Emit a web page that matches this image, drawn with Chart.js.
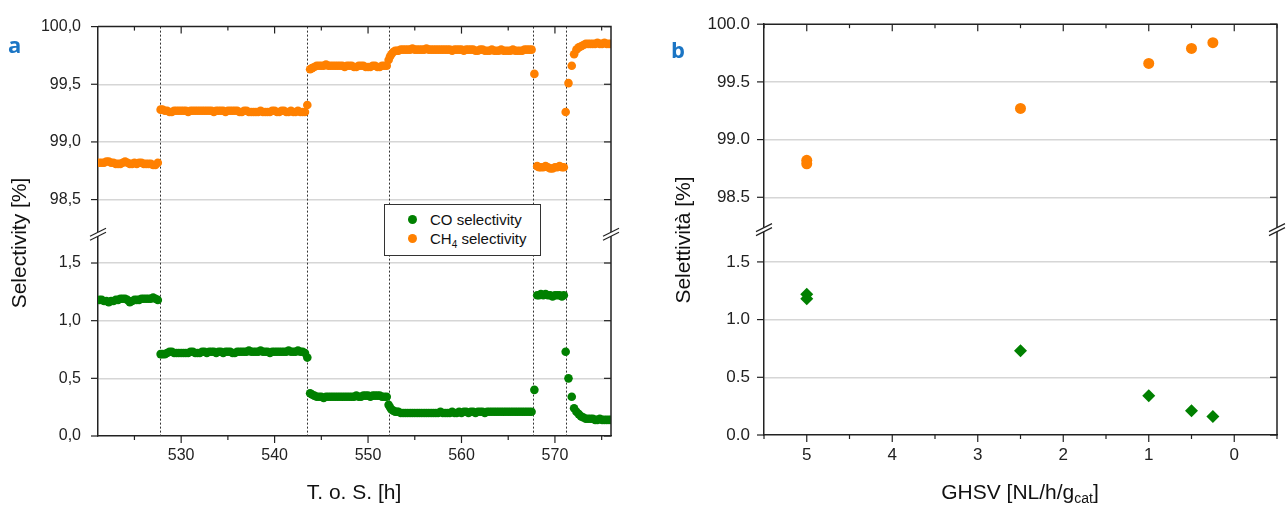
<!DOCTYPE html>
<html>
<head>
<meta charset="utf-8">
<script src="https://cdn.jsdelivr.net/npm/chart.js@4.4.0/dist/chart.umd.min.js"></script>
<style>
  body { margin: 0; width: 1288px; height: 505px; background: #fff; position: relative; overflow: hidden;
         font-family: "Liberation Sans", Arial, sans-serif; color: #111; }
  .pane { position: absolute; top: 0; height: 505px; }
  #paneA { left: 0; width: 640px; }
  #paneB { left: 645px; width: 643px; }
  .tag { position: absolute; font-family: "Open Sans", sans-serif; font-weight: bold; color: #1b75c4; font-size: 22px; line-height: 22px; }
  .ytitle { position: absolute; font-size: 21px; transform: translate(-50%, -50%) rotate(-90deg); white-space: nowrap; }
  .xtitle { position: absolute; font-size: 21px; transform: translate(-50%, -50%); white-space: nowrap; }
  .xtitle sub { font-size: 14px; vertical-align: -4px; line-height: 0; }
  #legend { position: absolute; left: 384px; top: 204px; width: 155px; height: 50px; border: 1px solid #333; background: #fff; z-index: 5; }
  #legend .dot { position: absolute; width: 9px; height: 9px; border-radius: 50%; left: 23px; }
  #legend .item { position: absolute; left: 45px; font-size: 15px; line-height: 20px; white-space: nowrap; }
  #legend sub { font-size: 10px; vertical-align: -4px; line-height: 0; }
</style>
</head>
<body>
<div class="pane" id="paneA"><canvas id="chartA"></canvas></div>
<div class="pane" id="paneB"><canvas id="chartB"></canvas></div>

<div class="tag" style="left:8px; top:33px;">a</div>
<div class="tag" style="left:671px; top:38px;">b</div>
<div class="ytitle" style="left:19px; top:243px;">Selectivity [%]</div>
<div class="ytitle" style="left:683px; top:240px;">Selettività [%]</div>
<div class="xtitle" style="left:354px; top:492px;">T. o. S. [h]</div>
<div class="xtitle" style="left:1020px; top:492px;">GHSV [NL/h/g<sub>cat</sub>]</div>

<div id="legend">
  <span class="dot" style="top:10px; background:#008000;"></span>
  <div class="item" style="top:5px;">CO selectivity</div>
  <span class="dot" style="top:29px; background:#ff8000;"></span>
  <div class="item" style="top:24px;">CH<sub>4</sub> selectivity</div>
</div>

<script>
// ---- panel a: selectivity vs time on stream ----
const tos = [
  521.25, 521.5, 521.75, 522.0, 522.25, 522.5, 522.75, 523.0, 523.25, 523.5, 523.75, 524.0, 524.25,
  524.5, 524.75, 525.0, 525.25, 525.5, 525.75, 526.0, 526.25, 526.5, 526.75, 527.0, 527.25, 527.5,
  527.8,
  528.0, 528.25, 528.5, 528.75, 529.0, 529.25, 529.5, 529.75,
  530.0, 530.25, 530.5, 530.75, 531.0, 531.25, 531.5, 531.75,
  532.0, 532.25, 532.5, 532.75, 533.0, 533.25, 533.5, 533.75,
  534.0, 534.25, 534.5, 534.75, 535.0, 535.25, 535.5, 535.75,
  536.0, 536.25, 536.5, 536.75, 537.0, 537.25, 537.5, 537.75,
  538.0, 538.25, 538.5, 538.75, 539.0, 539.25, 539.5, 539.75,
  540.0, 540.25, 540.5, 540.75, 541.0, 541.25, 541.5, 541.75,
  542.0, 542.25, 542.5, 542.75, 543.0, 543.25,
  543.5,
  543.8,
  544.0, 544.25, 544.5, 544.75, 545.0, 545.25, 545.5, 545.75,
  546.0, 546.25, 546.5, 546.75, 547.0, 547.25, 547.5, 547.75,
  548.0, 548.25, 548.5, 548.75, 549.0, 549.25, 549.5, 549.75,
  550.0, 550.25, 550.5, 550.75, 551.0, 551.25, 551.5, 551.75,
  552.0,
  552.2, 552.35, 552.5, 552.7, 552.9, 553.1,
  553.25, 553.5, 553.75,
  554.0, 554.25, 554.5, 554.75, 555.0, 555.25, 555.5, 555.75,
  556.0, 556.25, 556.5, 556.75, 557.0, 557.25, 557.5, 557.75,
  558.0, 558.25, 558.5, 558.75, 559.0, 559.25, 559.5, 559.75,
  560.0, 560.25, 560.5, 560.75, 561.0, 561.25, 561.5, 561.75,
  562.0, 562.25, 562.5, 562.75, 563.0, 563.25, 563.5, 563.75,
  564.0, 564.25, 564.5, 564.75, 565.0, 565.25, 565.5, 565.75,
  566.0, 566.25, 566.5, 566.75, 567.0, 567.25, 567.5,
  567.8,
  568.1, 568.3, 568.5, 568.75, 569.0, 569.25, 569.5, 569.75, 570.0, 570.25, 570.5, 570.75, 570.95,
  571.15, 571.45, 571.8, 572.05, 572.3, 572.55, 572.8, 573.05, 573.3,
  573.55, 573.8, 574.05, 574.3, 574.55, 574.8, 575.05, 575.3, 575.55, 575.8, 576.0
];
const ch4Sel = [
  98.82, 98.82, 98.82, 98.83, 98.83, 98.82, 98.82, 98.81, 98.81, 98.81, 98.82, 98.83, 98.82,
  98.81, 98.81, 98.82, 98.81, 98.82, 98.82, 98.81, 98.81, 98.81, 98.81, 98.80, 98.80, 98.82,
  99.28,
  99.28, 99.27, 99.27, 99.26, 99.26, 99.27, 99.27, 99.27,
  99.27, 99.27, 99.27, 99.26, 99.27, 99.27, 99.27, 99.27,
  99.27, 99.27, 99.27, 99.27, 99.27, 99.27, 99.26, 99.27,
  99.27, 99.27, 99.27, 99.26, 99.27, 99.27, 99.27, 99.27,
  99.27, 99.26, 99.26, 99.27, 99.27, 99.26, 99.26, 99.26,
  99.26, 99.26, 99.27, 99.26, 99.26, 99.26, 99.26, 99.27,
  99.27, 99.26, 99.26, 99.27, 99.27, 99.26, 99.26, 99.27,
  99.26, 99.26, 99.27, 99.26, 99.26, 99.26,
  99.32,
  99.63,
  99.64, 99.65, 99.66, 99.66, 99.66, 99.66, 99.67, 99.66,
  99.66, 99.66, 99.66, 99.66, 99.66, 99.66, 99.65, 99.66,
  99.66, 99.66, 99.65, 99.65, 99.66, 99.66, 99.66, 99.65,
  99.65, 99.65, 99.66, 99.66, 99.65, 99.65, 99.66, 99.66,
  99.66,
  99.71, 99.74, 99.76, 99.78, 99.79, 99.79,
  99.79, 99.80, 99.80,
  99.80, 99.80, 99.80, 99.81, 99.80, 99.80, 99.80, 99.80,
  99.80, 99.81, 99.80, 99.80, 99.80, 99.80, 99.80, 99.80,
  99.80, 99.80, 99.80, 99.80, 99.79, 99.80, 99.80, 99.80,
  99.80, 99.79, 99.80, 99.80, 99.80, 99.80, 99.79, 99.79,
  99.80, 99.80, 99.79, 99.79, 99.79, 99.80, 99.79, 99.79,
  99.79, 99.80, 99.79, 99.79, 99.79, 99.79, 99.80, 99.79,
  99.79, 99.79, 99.79, 99.80, 99.80, 99.80, 99.80,
  99.59,
  98.79, 98.78, 98.78, 98.78, 98.79, 98.78, 98.77, 98.77, 98.78, 98.78, 98.79, 98.78, 98.78,
  99.26, 99.51, 99.66, 99.76, 99.80, 99.82, 99.83, 99.84, 99.85,
  99.85, 99.85, 99.85, 99.85, 99.86, 99.85, 99.85, 99.86, 99.85, 99.85, 99.85
];
const coSel = [
  1.18, 1.18, 1.17, 1.17, 1.16, 1.17, 1.17, 1.18, 1.18, 1.19, 1.19, 1.19, 1.18,
  1.16, 1.17, 1.18, 1.18, 1.18, 1.19, 1.19, 1.19, 1.19, 1.19, 1.20, 1.19, 1.18,
  0.71,
  0.71, 0.71, 0.72, 0.73, 0.73, 0.72, 0.72, 0.72,
  0.72, 0.72, 0.72, 0.72, 0.73, 0.73, 0.72, 0.72,
  0.72, 0.73, 0.73, 0.72, 0.73, 0.73, 0.73, 0.72,
  0.73, 0.73, 0.72, 0.73, 0.73, 0.73, 0.72, 0.72,
  0.73, 0.73, 0.73, 0.73, 0.73, 0.74, 0.73, 0.73,
  0.73, 0.73, 0.74, 0.73, 0.73, 0.73, 0.72, 0.73,
  0.73, 0.73, 0.73, 0.73, 0.73, 0.73, 0.74, 0.73,
  0.73, 0.73, 0.74, 0.73, 0.73, 0.72,
  0.68,
  0.37,
  0.36, 0.35, 0.34, 0.34, 0.34, 0.33, 0.34, 0.34,
  0.34, 0.34, 0.34, 0.34, 0.34, 0.34, 0.34, 0.34,
  0.34, 0.34, 0.34, 0.35, 0.34, 0.34, 0.35, 0.35,
  0.35, 0.34, 0.35, 0.35, 0.35, 0.35, 0.34, 0.34,
  0.34,
  0.27, 0.25, 0.23, 0.22, 0.21, 0.21,
  0.21, 0.20, 0.20,
  0.20, 0.20, 0.20, 0.20, 0.20, 0.20, 0.20, 0.20,
  0.20, 0.20, 0.20, 0.20, 0.20, 0.20, 0.20, 0.21,
  0.20, 0.20, 0.20, 0.20, 0.21, 0.20, 0.20, 0.21,
  0.20, 0.21, 0.21, 0.20, 0.21, 0.21, 0.20, 0.21,
  0.21, 0.21, 0.20, 0.21, 0.21, 0.21, 0.21, 0.21,
  0.21, 0.21, 0.21, 0.21, 0.21, 0.21, 0.21, 0.21,
  0.21, 0.21, 0.21, 0.21, 0.21, 0.21, 0.21,
  0.40,
  1.22, 1.22, 1.23, 1.22, 1.23, 1.22, 1.22, 1.21, 1.22, 1.22, 1.22, 1.21, 1.22,
  0.73, 0.50, 0.34, 0.24, 0.21, 0.19, 0.17, 0.16, 0.15,
  0.15, 0.15, 0.15, 0.14, 0.14, 0.15, 0.14, 0.14, 0.14, 0.14, 0.14
];
// times where the space velocity was changed (dotted lines)
const switchTimes = [527.7, 543.45, 552.2, 567.7, 571.2];

// ---- panel b: selectivity vs GHSV ----
const ghsv = [5, 5, 2.5, 1, 0.5, 0.25];
const ch4Ghsv = [98.82, 98.79, 99.27, 99.66, 99.79, 99.84];
const coGhsv = [1.22, 1.18, 0.73, 0.34, 0.21, 0.16];

const GREEN = '#008000', ORANGE = '#ff8000', INK = '#222', GRID = '#d6d6d6';
Chart.defaults.font.family = "'Liberation Sans', Arial, sans-serif";
Chart.defaults.color = INK;

const onHalf = v => Math.abs(v * 2 - Math.round(v * 2)) < 1e-6;
const commaFmt = v => onHalf(v) ? v.toFixed(1).replace('.', ',') : '';
const dotFmt = v => onHalf(v) ? v.toFixed(1) : '';

function yScale(min, max, keepMin, keepMax, weight, fmt, width, pad, size) {
  return {
    type: 'linear', position: 'left', stack: 'sel', stackWeight: weight, min: min, max: max,
    afterFit: s => { s.width = width; },
    afterBuildTicks: s => { s.ticks = s.ticks.filter(t => t.value >= keepMin - 1e-9 && t.value <= keepMax + 1e-9); },
    ticks: { stepSize: 0.25, includeBounds: false, padding: pad, font: { size: size }, callback: fmt },
    grid: { color: c => (c.tick && (c.tick.value === 0 || c.tick.value === 100)) ? 'rgba(0,0,0,0)' : GRID,
            lineWidth: 1.5, drawTicks: false },
    border: { color: INK, width: 1.5 }
  };
}

function xScale(min, max, step, major, reverse, height, size) {
  return {
    type: 'linear', position: 'bottom', min: min, max: max, reverse: reverse,
    afterFit: s => { s.height = height; },
    ticks: { stepSize: step, includeBounds: false, autoSkip: false, maxRotation: 0, padding: 10, font: { size: size },
             callback: v => (Math.abs(v / major - Math.round(v / major)) < 1e-6) ? String(Math.round(v)) : '' },
    grid: { drawOnChartArea: false, drawTicks: false },
    border: { color: INK, width: 1.5 }
  };
}

// frame, mirrored ticks, tick marks, dotted lines and axis breaks
const decor = {
  id: 'decor',
  beforeDatasetsDraw(chart, args, opts) {
    const { ctx, chartArea: a, scales } = chart;
    if (!opts.lines) return;
    ctx.save();
    ctx.strokeStyle = '#333';
    ctx.lineWidth = 1;
    ctx.setLineDash([2, 2]);
    opts.lines.forEach(t => {
      const px = Math.round(scales.x.getPixelForValue(t)) + 0.5;
      ctx.beginPath(); ctx.moveTo(px, a.top); ctx.lineTo(px, a.bottom); ctx.stroke();
    });
    ctx.restore();
  },
  afterDraw(chart) {
    const { ctx, chartArea: a, scales } = chart;
    const seg = (x1, y1, x2, y2) => { ctx.beginPath(); ctx.moveTo(x1, y1); ctx.lineTo(x2, y2); ctx.stroke(); };
    ctx.save();
    ctx.strokeStyle = INK;
    ctx.lineWidth = 1.5;
    ctx.beginPath(); ctx.moveTo(a.left, a.top); ctx.lineTo(a.right, a.top); ctx.lineTo(a.right, a.bottom); ctx.stroke();
    ctx.lineWidth = 1.2;
    scales.x.ticks.forEach(t => {
      const px = scales.x.getPixelForValue(t.value);
      const L = t.label ? 7 : 4;
      seg(px, a.bottom, px, a.bottom + L);
      seg(px, a.top, px, a.top + L);
    });
    [scales.ylo, scales.yhi].forEach(s => s.ticks.forEach(t => {
      const py = s.getPixelForValue(t.value);
      const L = t.label ? 7 : 4;
      seg(a.left - L, py, a.left, py);
      seg(a.right - L, py, a.right, py);
    }));
    const yb = scales.yhi.bottom;
    [a.left, a.right].forEach(x0 => {
      ctx.fillStyle = '#fff';
      ctx.beginPath();
      ctx.moveTo(x0 - 8, yb + 6); ctx.lineTo(x0 + 8, yb - 2); ctx.lineTo(x0 + 8, yb - 6); ctx.lineTo(x0 - 8, yb + 2);
      ctx.closePath(); ctx.fill();
      seg(x0 - 8, yb + 6, x0 + 8, yb - 2);
      seg(x0 - 8, yb + 2, x0 + 8, yb - 6);
    });
    ctx.restore();
  }
};

new Chart(document.getElementById('chartA'), {
  type: 'scatter',
  data: {
    datasets: [
      { label: 'CO selectivity', yAxisID: 'ylo', data: tos.map((t, i) => ({ x: t, y: coSel[i] })),
        backgroundColor: GREEN, borderWidth: 0, pointRadius: 4.3, clip: 0 },
      { label: 'CH4 selectivity', yAxisID: 'yhi', data: tos.map((t, i) => ({ x: t, y: ch4Sel[i] })),
        backgroundColor: ORANGE, borderWidth: 0, pointRadius: 4.3, clip: 0 }
    ]
  },
  options: {
    responsive: true, maintainAspectRatio: false, animation: false,
    layout: { padding: { top: 22, right: 29, left: 0, bottom: 0 } },
    plugins: { legend: { display: false }, tooltip: { enabled: false }, decor: { lines: switchTimes } },
    scales: {
      x: xScale(521.1, 576, 5, 10, false, 69, 16),
      ylo: yScale(0, 1.75, 0, 1.5, 1.75, commaFmt, 98, 17, 16),
      yhi: yScale(98.2, 100, 98.5, 100, 1.8, commaFmt, 98, 17, 16)
    }
  },
  plugins: [decor]
});

new Chart(document.getElementById('chartB'), {
  type: 'scatter',
  data: {
    datasets: [
      { label: 'CO', yAxisID: 'ylo', data: ghsv.map((g, i) => ({ x: g, y: coGhsv[i] })),
        backgroundColor: GREEN, borderWidth: 0, pointStyle: 'rectRot', pointRadius: 6.5 },
      { label: 'CH4', yAxisID: 'yhi', data: ghsv.map((g, i) => ({ x: g, y: ch4Ghsv[i] })),
        backgroundColor: ORANGE, borderWidth: 0, pointRadius: 5.5 }
    ]
  },
  options: {
    responsive: true, maintainAspectRatio: false, animation: false,
    layout: { padding: { top: 24, right: 11, left: 0, bottom: 0 } },
    plugins: { legend: { display: false }, tooltip: { enabled: false }, decor: {} },
    scales: {
      x: xScale(-0.5, 5.5, 0.5, 1, true, 70, 17),
      ylo: yScale(0, 1.78, 0, 1.5, 1.78, dotFmt, 119, 14, 17),
      yhi: yScale(98.22, 100, 98.5, 100, 1.78, dotFmt, 119, 14, 17)
    }
  },
  plugins: [decor]
});
</script>
</body>
</html>
